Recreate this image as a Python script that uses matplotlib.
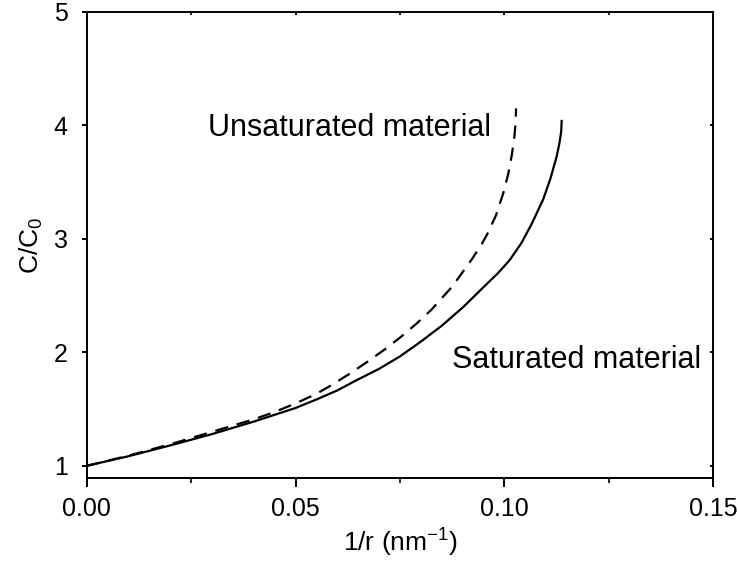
import matplotlib
matplotlib.use('Agg')
import matplotlib.pyplot as plt
from matplotlib.ticker import MultipleLocator

# data
sat_x = [0.0, 0.01, 0.02, 0.03, 0.04, 0.05, 0.055, 0.06, 0.0646, 0.07,
         0.075, 0.08, 0.085, 0.09, 0.095, 0.0985, 0.1013, 0.104, 0.1065,
         0.1093, 0.111, 0.1125, 0.1132, 0.1136, 0.1137]
sat_y = [1.0, 1.085, 1.18, 1.28, 1.39, 1.51, 1.585, 1.665, 1.755, 1.855,
         1.965, 2.095, 2.235, 2.395, 2.575, 2.70, 2.815, 2.96, 3.13,
         3.35, 3.53, 3.725, 3.85, 3.95, 4.04]

unsat_x = [0.0, 0.01, 0.02, 0.03, 0.04, 0.045, 0.05, 0.055, 0.059, 0.0635,
           0.0675, 0.0715, 0.075, 0.079, 0.0825, 0.0875, 0.0921, 0.0945,
           0.096, 0.098, 0.0997, 0.1009, 0.1017, 0.1023, 0.1026, 0.1028]
unsat_y = [1.0, 1.09, 1.19, 1.30, 1.41, 1.475, 1.55, 1.635, 1.72, 1.825,
           1.925, 2.03, 2.13, 2.255, 2.375, 2.58, 2.815, 2.95,
           3.05, 3.21, 3.40, 3.57, 3.725, 3.87, 3.99, 4.15]

x_ticks = [0.00, 0.05, 0.10, 0.15]
y_ticks = [1, 2, 3, 4, 5]

plt.rcParams['font.family'] = ['Liberation Sans', 'DejaVu Sans']
plt.rcParams['mathtext.fontset'] = 'custom'
plt.rcParams['mathtext.rm'] = 'Liberation Sans'
plt.rcParams['mathtext.it'] = 'Liberation Sans'
plt.rcParams['mathtext.default'] = 'regular'

fig = plt.figure(figsize=(7.38, 5.71), dpi=100)
ax = fig.add_axes([0.1175, 0.1623, 0.849, 0.8167])

ax.plot(sat_x, sat_y, color='black', lw=1.6, solid_joinstyle='round')
ax.plot(unsat_x, unsat_y, color='black', lw=1.6, dashes=(6, 4))

ax.set_xlim(0.0, 0.15)
ax.set_ylim(0.89, 5.0)
ax.set_xticks(x_ticks)
ax.set_xticklabels([f'{t:.2f}' for t in x_ticks])
ax.set_yticks(y_ticks)
ax.xaxis.set_minor_locator(MultipleLocator(0.025))

for s in ax.spines.values():
    s.set_linewidth(1.4)

ax.tick_params(axis='x', which='major', direction='out', length=6.5, width=1.4,
               labelsize=18, pad=7)
ax.tick_params(axis='x', which='minor', direction='out', length=3.6, width=1.2)
ax.tick_params(axis='y', which='major', direction='out', length=3.6, width=1.4,
               labelsize=18, pad=10)
ax.tick_params(which='both', top=True, right=True)
# small inward ticks on the mirrored axes
for t in ax.xaxis.get_major_ticks() + ax.xaxis.get_minor_ticks():
    t.tick2line.set_markersize(2)
    t.tick2line.set_marker(3)
for t in ax.yaxis.get_major_ticks():
    t.tick2line.set_markersize(2)
    t.tick2line.set_marker(0)

ax.set_xlabel('1/r (nm$^{-1}$)', fontsize=19, labelpad=4)
ax.set_ylabel('C/C$_{0}$', fontsize=19, labelpad=6)

ax.text(0.0969, 3.98, 'Unsaturated material', fontsize=22, va='center', ha='right')
ax.text(0.0874, 1.93, 'Saturated material', fontsize=22, va='center', ha='left')

fig.savefig('out.png', dpi=100)
